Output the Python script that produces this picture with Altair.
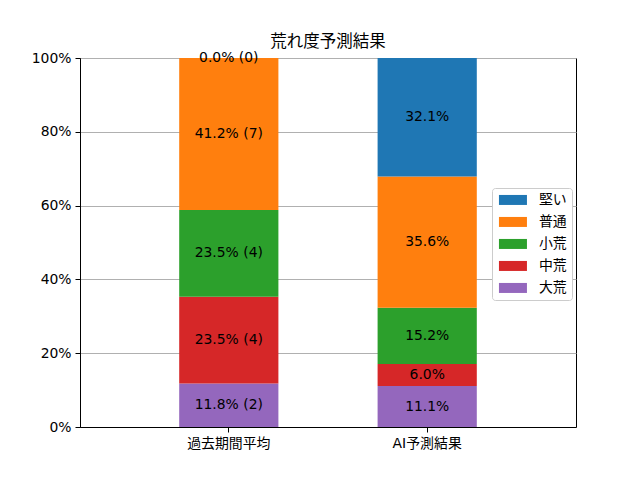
import altair as alt
import pandas as pd

categories = ["過去期間平均", "AI予測結果"]
levels = ["大荒", "中荒", "小荒", "普通", "堅い"]  # bottom -> top
past_pct = [11.8, 23.5, 23.5, 41.2, 0.0]
past_count = [2, 4, 4, 7, 0]
ai_pct = [11.1, 6.0, 15.2, 35.6, 32.1]

legend_order = ["堅い", "普通", "小荒", "中荒", "大荒"]
colors = ["#1f77b4", "#ff7f0e", "#2ca02c", "#d62728", "#9467bd"]

rows = []
for i, lv in enumerate(levels):
    rows.append({"cat": categories[0], "level": lv, "ord": i, "value": past_pct[i],
                 "label": f"{past_pct[i]:.1f}% ({past_count[i]})"})
for i, lv in enumerate(levels):
    rows.append({"cat": categories[1], "level": lv, "ord": i, "value": ai_pct[i],
                 "label": f"{ai_pct[i]:.1f}%"})
df = pd.DataFrame(rows)

FONT = "DejaVu Sans, Noto Sans CJK JP"
FS = 13.9

base = alt.Chart(df).transform_stack(
    stack="value", groupby=["cat"], as_=["y0", "y1"], sort=[alt.SortField("ord")]
).transform_calculate(mid="(datum.y0 + datum.y1) / 2")

x_enc = alt.X("cat:N", sort=categories, title=None,
              scale=alt.Scale(paddingInner=0.5, paddingOuter=0.5),
              axis=alt.Axis(labelAngle=0, labelFontSize=FS, labelColor="black",
                            tickColor="black", domainColor="black", tickSize=5,
                            labelPadding=4, grid=False, labelFont=FONT))

bars = base.mark_bar().encode(
    x=x_enc,
    y=alt.Y("y0:Q", title=None, scale=alt.Scale(domain=[0, 100], nice=False),
            axis=alt.Axis(values=[0, 20, 40, 60, 80, 100], labelExpr="datum.value + '%'",
                          labelFontSize=FS, labelColor="black", tickColor="black",
                          domainColor="black", tickSize=5, labelPadding=4,
                          grid=True, gridColor="#b0b0b0", gridWidth=1, labelFont=FONT)),
    y2="y1:Q",
    color=alt.Color("level:N", scale=alt.Scale(domain=legend_order, range=colors),
                    legend=alt.Legend(title=None, orient="none", legendX=412, legendY=130,
                                      symbolType="M-1,-1H4.6V1H-1Z", symbolSize=100,
                                      symbolStrokeWidth=0, labelOffset=28,
                                      labelFontSize=FS, labelFont=FONT, labelColor="black",
                                      rowPadding=7, padding=5, strokeColor="#cccccc",
                                      fillColor="white", cornerRadius=3)),
)

texts = base.mark_text(fontSize=FS, color="black", font=FONT, baseline="middle").encode(
    x=alt.X("cat:N", sort=categories),
    y=alt.Y("mid:Q"),
    text="label:N",
)

chart = (bars + texts).properties(
    width=496, height=369,
    title=alt.TitleParams("荒れ度予測結果", fontSize=16.5, fontWeight="normal", font=FONT,
                          anchor="middle", offset=1, color="black"),
    autosize=alt.AutoSizeParams(type="none"),
    padding={"left": 72, "top": 50, "right": 56, "bottom": 45},
).configure_view(stroke="black", strokeWidth=1)

chart.save("out.html", embed_options={"renderer": "svg", "actions": False})
